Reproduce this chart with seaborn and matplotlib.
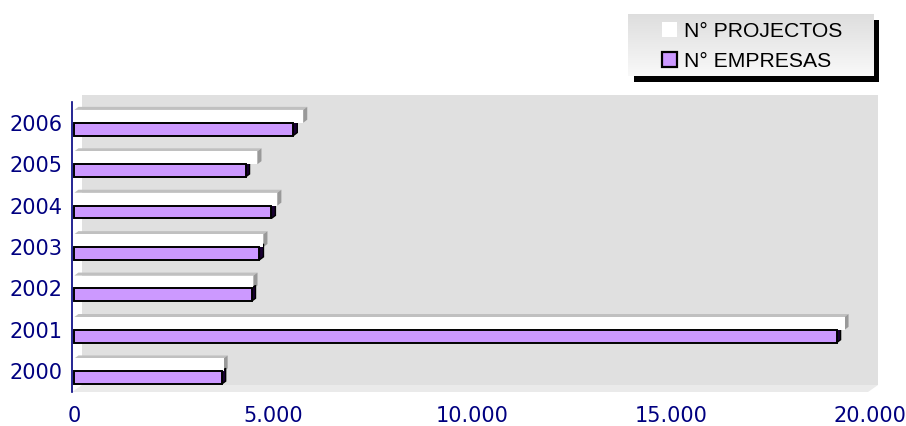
import numpy as np
import pandas as pd
import seaborn as sns
import matplotlib.pyplot as plt
from matplotlib.patches import Polygon, Rectangle, Patch
from matplotlib.ticker import FuncFormatter, FixedLocator
from matplotlib.transforms import IdentityTransform, ScaledTranslation

sns.set_style("white")
plt.rcParams['font.family'] = ['DejaVu Sans']

# values
years = ["2000", "2001", "2002", "2003", "2004", "2005", "2006"]
projectos = [3750, 19350, 4500, 4750, 5100, 4600, 5750]
empresas = [3700, 19150, 4450, 4650, 4950, 4300, 5500]
series = ["N° PROJECTOS", "N° EMPRESAS"]
colors = ["#FFFFFF", "#CC99FF"]
xticks = [0, 5000, 10000, 15000, 20000]

navy = "#000080"

df = pd.DataFrame({"ano": years * 2,
                   "valor": projectos + empresas,
                   "serie": [series[0]] * len(years) + [series[1]] * len(years)})

fig = plt.figure(figsize=(9.06, 4.26), dpi=100)
W, H = 906, 426
ax = fig.add_axes([72 / W, 1 - 392 / H, 800 / W, 290 / H])
ax.patch.set_alpha(0)

# 3D back wall (shifted right/up like the Excel chart)
shift = ScaledTranslation(10 / 100, 7 / 100, fig.dpi_scale_trans)
ax.add_patch(Rectangle((0, 0), 0.995, 1, transform=ax.transAxes + shift,
                       facecolor="#E0E0E0", edgecolor="none", zorder=0, clip_on=False))

order = years[::-1]
sns.barplot(data=df, x="valor", y="ano", hue="serie", order=order, hue_order=series,
            palette=colors, orient="h", width=0.62, edgecolor="black", linewidth=1.4,
            saturation=1, legend=False, ax=ax, zorder=3)

# white bars: no black outline
for bar in ax.containers[0]:
    bar.set_edgecolor("none")

ax.set_xlim(-60, 20040)
ax.set_ylim(len(years) - 0.5, -0.5)

# floor strip under the wall
p0 = ax.transAxes.transform((0, 0))
p1 = ax.transAxes.transform((0.995, 0))
ax.add_patch(Polygon([p0, p1, (p1[0] + 10, p1[1] + 7), (p0[0] + 10, p0[1] + 7)], closed=True,
                     transform=IdentityTransform(), facecolor="#EAEAEA",
                     edgecolor="none", zorder=1, clip_on=False))

# fake 3D depth faces derived from the drawn bars
dx, dy = 4, 3
for k, cont in enumerate(ax.containers):
    for bar in cont:
        x0, y0 = bar.get_x(), bar.get_y()
        x1, y1 = x0 + bar.get_width(), y0 + bar.get_height()
        (px0, pa), (px1, pb) = ax.transData.transform([(x0, y0), (x1, y1)])
        top, bot = max(pa, pb), min(pa, pb)
        if k == 0:
            ax.add_patch(Polygon([(px0, top), (px1, top), (px1 + dx, top + dy), (px0 + dx, top + dy)],
                                 transform=IdentityTransform(), facecolor="#C0C0C0",
                                 edgecolor="none", zorder=2, clip_on=False))
            ax.add_patch(Polygon([(px1, top), (px1 + dx, top + dy), (px1 + dx, bot + dy), (px1, bot)],
                                 transform=IdentityTransform(), facecolor="#999999",
                                 edgecolor="none", zorder=2, clip_on=False))
        else:
            ax.add_patch(Polygon([(px1, top), (px1 + dx, top + dy), (px1 + dx, bot + dy), (px1, bot)],
                                 transform=IdentityTransform(), facecolor="#1A0033",
                                 edgecolor="black", linewidth=1, zorder=2, clip_on=False))

# axes styling
for s in ["top", "right", "bottom"]:
    ax.spines[s].set_visible(False)
ax.spines["left"].set_color(navy)
ax.spines["left"].set_linewidth(1.2)
ax.spines["left"].set_zorder(4)

ax.set_xlabel("")
ax.set_ylabel("")
ax.xaxis.set_major_locator(FixedLocator(xticks))
ax.xaxis.set_major_formatter(FuncFormatter(lambda v, p: f"{v:,.0f}".replace(",", ".")))
ax.tick_params(axis="x", length=0, pad=10, labelsize=15, labelcolor=navy)
ax.tick_params(axis="y", which="major", length=0, pad=7, labelsize=15, labelcolor=navy)
ax.yaxis.set_minor_locator(FixedLocator([i - 0.5 for i in range(len(years) + 1)]))
ax.tick_params(axis="y", which="minor", length=4, width=1.2, color=navy, direction="out")

# legend box: black drop shadow + light gradient panel
fig.add_artist(Rectangle((634, H - 82), 245, 62, transform=IdentityTransform(),
                         facecolor="black", edgecolor="none", zorder=4))
lax = fig.add_axes([628 / W, 1 - 76 / H, 246 / W, 62 / H], zorder=5)
grad = np.linspace(0.87, 0.975, 64)[::-1].reshape(-1, 1)
lax.imshow(np.dstack([grad, grad, grad]), aspect="auto", extent=[0, 1, 0, 1], origin="lower")
lax.set_axis_off()

handles = [Patch(facecolor=colors[0], edgecolor="none"),
           Patch(facecolor=colors[1], edgecolor="black", linewidth=1.6)]
leg = fig.legend(handles, series, loc="center left", bbox_to_anchor=(662 / W, 1 - 46.5 / H),
                 bbox_transform=fig.transFigure, borderaxespad=0, borderpad=0,
                 frameon=False, prop={"family": "Liberation Sans", "size": 15.2},
                 handlelength=0.72, handleheight=0.72, handletextpad=0.3,
                 labelspacing=0.52)
leg.set_zorder(6)
for t in leg.get_texts():
    t.set_color("black")

fig.savefig("out.png", dpi=100)
